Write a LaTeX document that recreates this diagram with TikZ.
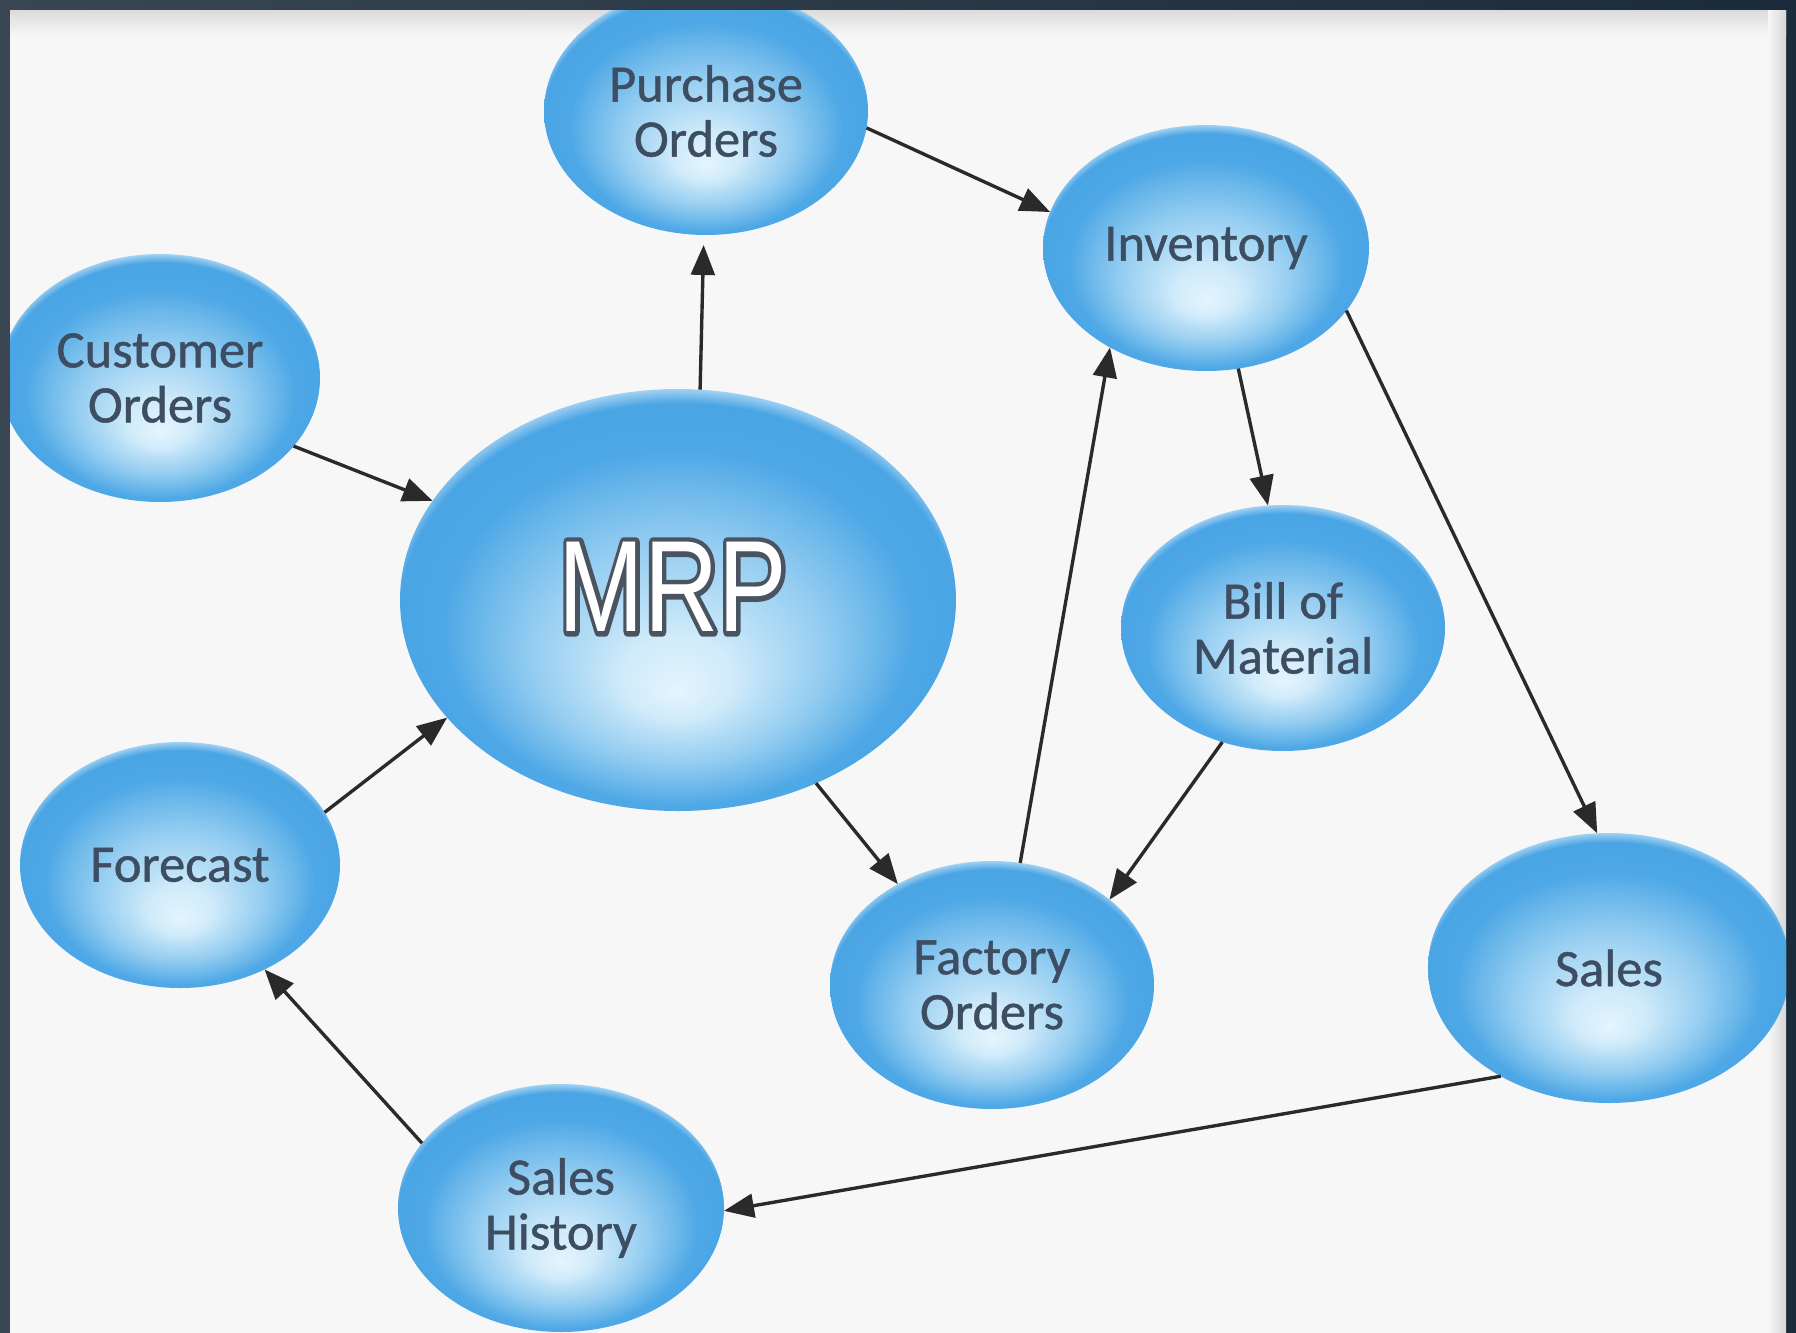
\documentclass[tikz,border=0pt]{standalone}
\usepackage{fontspec}
\setmainfont{Carlito}
\newfontfamily\nodefont{Carlito}[FakeBold=0.9]
\newfontfamily\mrpfont{Liberation Sans}
\usetikzlibrary{shapes.geometric,arrows.meta}
\definecolor{frameL}{HTML}{3A4652}
\definecolor{frameR}{HTML}{1A2B3B}
\definecolor{paper}{HTML}{F7F7F7}
\definecolor{txt}{HTML}{3D4D62}
\definecolor{linec}{HTML}{2A2A2A}
\definecolor{outl}{HTML}{4A5560}
\definecolor{b0}{HTML}{E4F5FD}
\definecolor{b1}{HTML}{D0EBFA}
\definecolor{b2}{HTML}{B8DFF6}
\definecolor{b3}{HTML}{95CDF1}
\definecolor{b4}{HTML}{6AB7EA}
\definecolor{b5}{HTML}{4FA8E6}
\definecolor{b6}{HTML}{4AA5E5}
\definecolor{b7}{HTML}{A5D3F3}
\pgfdeclareradialshading{ballshade}{\pgfpoint{0bp}{-11bp}}{color(0bp)=(b0); color(5bp)=(b1); color(8bp)=(b2); color(13bp)=(b3); color(18bp)=(b4); color(21bp)=(b5); color(25.1bp)=(b6); color(26.4bp)=(b7); color(30bp)=(b7)}
\tikzset{
  bubble/.style 2 args={ellipse, minimum width=#1*0.8pt, minimum height=#2*0.8pt,
    inner sep=0pt, outer sep=0pt, shade, shading=ballshade, align=center,
    font=\nodefont\fontsize{21}{22}\selectfont, text=txt},
  conn/.style={draw=linec, line width=1.35pt, -{Triangle[length=12pt,width=9.5pt]}},
  mrpword/.style={font=\mrpfont\fontsize{52}{52}\selectfont, inner sep=0pt}
}
\newcommand{\thickword}[1]{{\color{outl}\special{pdf:code 2 Tr 4 w 1 j 1 J 0.29 0.33 0.38 RG}#1\special{pdf:code 0 Tr}}}
\begin{document}
\begin{tikzpicture}[x=0.4pt,y=-0.4pt]
\useasboundingbox (0,0) rectangle (1796,1333);
\fill[left color=frameL, right color=frameR] (0,0) rectangle (1796,1333);
\fill[paper] (10,10) rectangle (1786,1333);
\fill[top color=black!14, bottom color=paper] (10,10) rectangle (1786,36);
\fill[left color=paper, right color=black!16] (1768,10) rectangle (1786,1333);
\begin{scope}
\clip (10,10) rectangle (1786,1333);
% nodes
\node[bubble={162}{124}] (po) at (706,111) {Purchase\\Orders};
\node[bubble={163}{123}] (inv) at (1206,248) {Inventory};
\node[bubble={160}{124}] (co) at (160,378) {Customer\\Orders};
\node[bubble={278}{211}] (mrp) at (678,600) {};
\node[bubble={162}{123}] (bom) at (1283,628) {Bill of\\Material};
\node[bubble={160}{123}] (fc) at (180,865) {Forecast};
\node[bubble={162}{124}] (fo) at (992,985) {Factory\\Orders};
\node[bubble={181}{135}] (sales) at (1609,968) {Sales};
\node[bubble={163}{124}] (sh) at (561,1208) {Sales\\History};
% MRP outlined title
\node[mrpword] (mrpshadow) at (673,587) {\scalebox{0.79}[1]{\thickword{MRP}}};
\node[mrpword, text=white] (mrptxt) at (mrpshadow.center) {\scalebox{0.79}[1]{MRP}};
% connectors
\draw[conn, shorten >=4pt] (mrp.84.6) -- (po.269);
\draw[conn] (po.-6) -- (inv.167.6);
\draw[conn] (co.-27.6) -- (mrp.158.6);
\draw[conn] (fc.20.3) -- (mrp.207);
\draw[conn] (mrp.-53.9) -- (fo.133.2);
\draw[conn] (fo.77.3) -- (inv.226.4);
\draw[conn] (inv.-75) -- (bom.97.8);
\draw[conn] (bom.242.8) -- (fo.36.9);
\draw[conn] (inv.-24.8) -- (sales.95.4);
\draw[conn] (sales.225.5) -- (sh.-1);
\draw[conn] (sh.155.9) -- (fc.-51.9);
\end{scope}
\end{tikzpicture}
\end{document}
